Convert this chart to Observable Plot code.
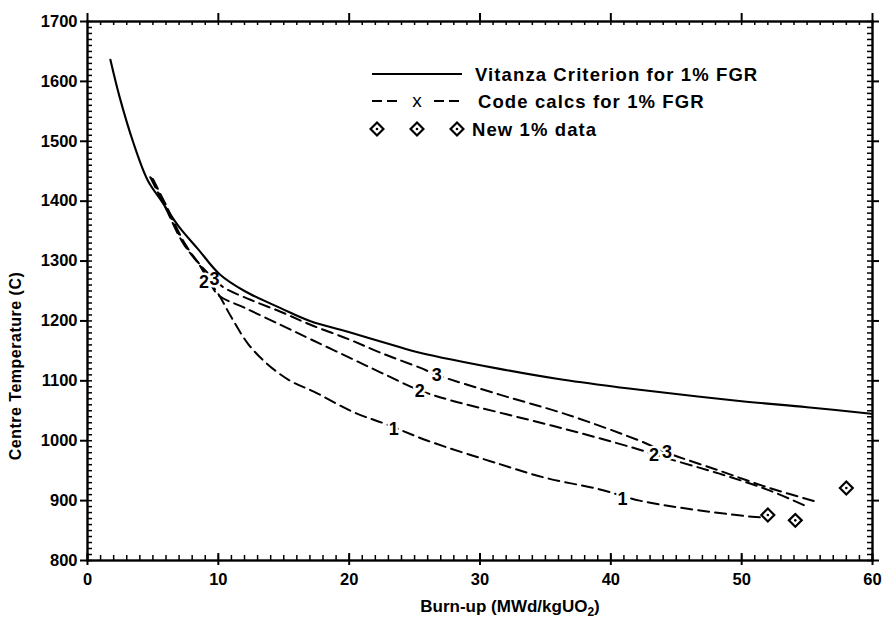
<!DOCTYPE html>
<html><head><meta charset="utf-8">
<script src="https://cdn.jsdelivr.net/npm/d3@7"></script>
<script src="https://cdn.jsdelivr.net/npm/@observablehq/plot@0.6"></script>
<style>html,body{margin:0;padding:0;background:#fff;overflow:hidden}#chart svg{display:block}</style>
</head><body><div id="chart"></div>
<script>
// ---- data ----
const xTicks = [0, 10, 20, 30, 40, 50, 60];
const yTicks = [800, 900, 1000, 1100, 1200, 1300, 1400, 1500, 1600, 1700];

const vitanzaBurnup = [1.75, 2.44, 3.5, 4.6, 5.6, 7.0, 8.45, 10.1, 12.0, 14.8, 17.0, 19.9, 23.9, 25.4, 31.5, 36.0, 40.7, 42.2, 50.0, 55.0, 59.9];
const vitanzaTemp   = [1636, 1575, 1498, 1435, 1402, 1357, 1320, 1278, 1250, 1221, 1200, 1182, 1156, 1147, 1120, 1103, 1089, 1085, 1066, 1056, 1045];

const calc1Burnup = [4.8, 5.9, 7.3, 8.6, 9.3, 10.0, 11.0, 12.3, 13.8, 15.5, 17.3, 20.3, 22.9, 26.0, 31.5, 35.0, 39.1, 42.2, 46.0, 50.8, 51.6];
const calc1Temp   = [1440, 1392, 1330, 1292, 1266, 1245, 1206, 1161, 1127, 1100, 1082, 1048, 1027, 1000, 961, 938, 919, 900, 886, 873, 872];

const calc2Burnup = [4.9, 6.0, 7.4, 8.7, 9.3, 10.0, 12.0, 14.8, 17.0, 19.9, 22.5, 25.4, 28.0, 31.5, 36.6, 42.2, 43.3, 48.3, 52.0, 55.0];
const calc2Temp   = [1438, 1390, 1328, 1290, 1266, 1243, 1222, 1193, 1170, 1140, 1113, 1084, 1066, 1047, 1019, 985, 977, 945, 918, 890];

const calc3Burnup = [5.0, 6.1, 7.5, 8.8, 9.7, 10.4, 12.5, 14.8, 17.0, 19.9, 22.5, 25.4, 26.7, 31.5, 36.6, 42.2, 44.3, 48.3, 52.0, 55.9];
const calc3Temp   = [1437, 1389, 1327, 1289, 1270, 1256, 1235, 1215, 1194, 1170, 1146, 1122, 1110, 1077, 1044, 1000, 980, 950, 922, 897];

const newDataBurnup = [52.0, 54.1, 58.0];
const newDataTemp   = [876, 867, 921];

const lineLabelText = ["2", "3", "1", "2", "3", "1", "2", "3"];
const lineLabelX    = [8.9, 9.7, 23.4, 25.4, 26.7, 40.9, 43.3, 44.3];
const lineLabelY    = [1265, 1270, 1019, 1082, 1110, 902, 976, 980];

const legendLabels = ["Vitanza Criterion for 1% FGR", "Code calcs for 1% FGR", "New 1% data"];
const xTitle = ["Burn-up (MWd/kgUO", "2", ")"];
const yTitle = "Centre Temperature (C)";

// ---- tables ----
const zipXY = (xs, ys) => xs.map((b, i) => ({b, t: ys[i]}));
const vitanza = zipXY(vitanzaBurnup, vitanzaTemp);
const calcs = [calc1Burnup, calc2Burnup, calc3Burnup].map((xs, k) => zipXY(xs, [calc1Temp, calc2Temp, calc3Temp][k]));
const newData = zipXY(newDataBurnup, newDataTemp);
const labels = lineLabelText.map((s, i) => ({s, b: lineLabelX[i], t: lineLabelY[i]}));
const xMinor = d3.range(0, 60.001, 1);
const yMinor = d3.range(800, 1700.001, 10);

const W = 891, H = 620, ML = 87, MR = 19, MT = 21, MB = 60;
const FW = W - ML - MR, FH = H - MT - MB;
const id = d => d;
const FONT = "'Liberation Sans', Arial, Helvetica, sans-serif";
const tx = (data, o) => Plot.tickX(data, {x: id, stroke: "black", strokeWidth: 1.5, ...o});
const ty = (data, o) => Plot.tickY(data, {y: id, stroke: "black", strokeWidth: 1.5, ...o});

const plot = Plot.plot({
  width: W, height: H,
  marginLeft: ML, marginRight: MR, marginTop: MT, marginBottom: MB,
  x: {domain: [0, 60]},
  y: {domain: [800, 1700]},
  style: {fontFamily: FONT, fontSize: "16.5px", fontWeight: "bold", color: "black", background: "white", overflow: "visible"},
  marks: [
    ...calcs.map(c => Plot.line(c, {x: "b", y: "t", stroke: "black", strokeWidth: 2, strokeDasharray: "11,6", curve: "catmull-rom"})),
    Plot.text(labels, {x: "b", y: "t", text: "s", fontSize: 18, fontWeight: "bold", fill: "black", stroke: "white", strokeWidth: 5, paintOrder: "stroke"}),
    Plot.line(vitanza, {x: "b", y: "t", stroke: "black", strokeWidth: 2.1, curve: "catmull-rom"}),
    Plot.dot(newData, {x: "b", y: "t", symbol: "diamond2", r: 5.8, stroke: "black", strokeWidth: 2.2, fill: "white"}),
    Plot.dot(newData, {x: "b", y: "t", r: 1.3, fill: "black"}),
    // ticks: bottom, top, left, right
    tx(xMinor, {insetTop: FH - 5}),
    tx(xTicks, {insetTop: FH - 7, insetBottom: -5, strokeWidth: 2}),
    tx(xMinor, {insetBottom: FH - 4}),
    tx(xTicks, {insetTop: -8, insetBottom: FH, strokeWidth: 2}),
    ty(yMinor, {insetRight: FW - 5}),
    ty(yTicks, {insetLeft: -7, insetRight: FW, strokeWidth: 2}),
    ty(yMinor, {insetLeft: FW - 5}),
    ty(yTicks, {insetRight: -7, insetLeft: FW, strokeWidth: 2}),
    Plot.frame({stroke: "black", strokeWidth: 2.4}),
    Plot.axisX({ticks: xTicks, tickSize: 0, tickPadding: 13, label: null, tickFormat: d => String(d)}),
    Plot.axisY({ticks: yTicks, tickSize: 0, tickPadding: 10, label: null, tickFormat: d => String(d)})
  ]
});
document.getElementById("chart").append(plot);

// ---- titles and legend (decorations) ----
const svg = d3.select(plot);
svg.append("text").attr("transform", "translate(15,366) rotate(-90)")
  .attr("text-anchor", "middle").attr("dy", "0.35em")
  .attr("font-family", FONT).attr("font-weight", "bold").attr("font-size", 16).attr("letter-spacing", 0.5)
  .text(yTitle);
const xt = svg.append("text").attr("x", 510).attr("y", 612).attr("text-anchor", "middle")
  .attr("font-family", FONT).attr("font-weight", "bold").attr("font-size", 17);
xt.append("tspan").text(xTitle[0]);
xt.append("tspan").attr("font-size", 12).attr("dy", 4).text(xTitle[1]);
xt.append("tspan").attr("dy", -4).text(xTitle[2]);

const lg = svg.append("g").attr("font-family", FONT).attr("font-weight", "bold").attr("font-size", 18.5)
  .attr("letter-spacing", 1.1).attr("text-anchor", "start");
// row 1
lg.append("line").attr("x1", 372).attr("x2", 462).attr("y1", 74).attr("y2", 74).attr("stroke", "black").attr("stroke-width", 2);
lg.append("text").attr("x", 475).attr("y", 74).attr("dy", "0.36em").attr("text-anchor", "start").text(legendLabels[0]);
// row 2
[[372, 382], [387, 397], [434, 444], [449, 459]].forEach(([a, b]) =>
  lg.append("line").attr("x1", a).attr("x2", b).attr("y1", 101).attr("y2", 101).attr("stroke", "black").attr("stroke-width", 2));
lg.append("text").attr("x", 417).attr("y", 101).attr("dy", "0.32em").attr("text-anchor", "middle")
  .attr("font-size", 19).attr("font-weight", "normal").attr("letter-spacing", 0).text("x");
lg.append("text").attr("x", 478).attr("y", 101).attr("dy", "0.36em").attr("text-anchor", "start").text(legendLabels[1]);
// row 3
const dia = d3.symbol(d3.symbolDiamond2, Math.PI * 5.8 * 5.8)();
[377, 417, 457].forEach(cx => {
  lg.append("path").attr("d", dia).attr("transform", `translate(${cx},129)`).attr("fill", "white").attr("stroke", "black").attr("stroke-width", 2.2);
  lg.append("circle").attr("cx", cx).attr("cy", 129).attr("r", 1.3).attr("fill", "black");
});
lg.append("text").attr("x", 472).attr("y", 129).attr("dy", "0.36em").attr("text-anchor", "start").text(legendLabels[2]);
</script>
</body></html>
